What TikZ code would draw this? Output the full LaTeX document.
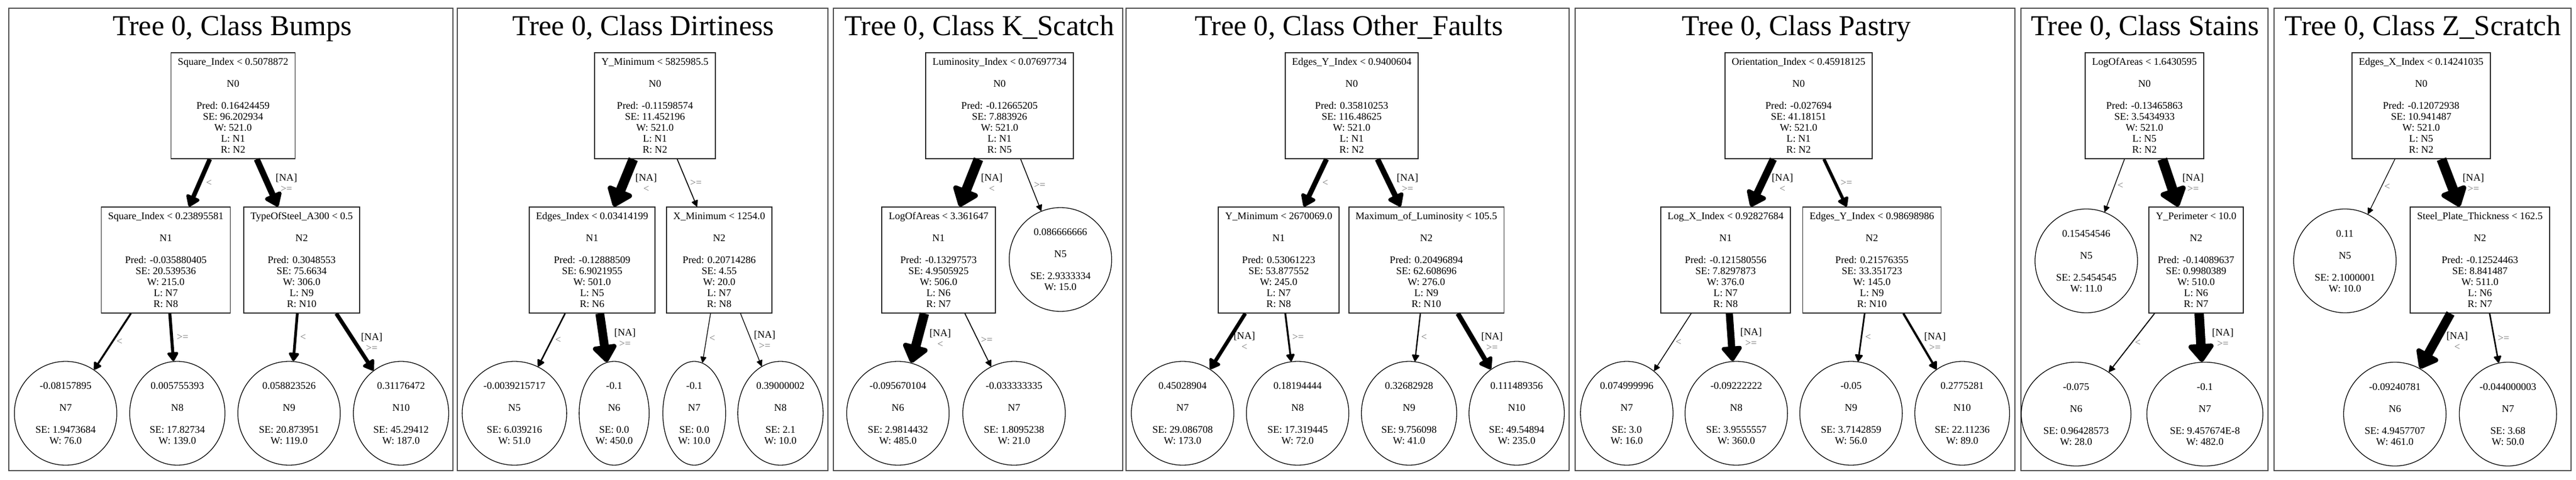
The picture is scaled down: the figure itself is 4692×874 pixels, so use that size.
\documentclass[tikz,border=0pt]{standalone}
\usepackage{fontspec}
\setmainfont{Liberation Serif}
\usetikzlibrary{arrows.meta,shapes.geometric}
\definecolor{lblgray}{gray}{0.45}
\definecolor{framegray}{gray}{0.3}
\newcommand\nfont{\fontsize{18.5}{20}\selectfont}
\newcommand\tfont{\fontsize{52.5}{56}\selectfont}
\newcommand\gl[1]{\textcolor{lblgray}{#1}}
\newcommand\btext[7]{#1\\[20pt]#2\\[20pt]Pred: #3\\SE: #4\\W: #5\\L: #6\\R: #7}
\newcommand\ltext[4]{#1\\[20pt]#2\\[20pt]SE: #3\\W: #4}
\newcommand\tedge[4]{\draw[edge, line width=#3pt] (#1) -- node[lbl, xshift={#3/2+4}] {#4} (#2);}
\newcommand\LT{\gl{<}}
\newcommand\GE{\gl{>=}}
\newcommand\NALT{[NA]\\\gl{<}}
\newcommand\NAGE{[NA]\\\gl{>=}}
\begin{document}
\begin{tikzpicture}[x=1pt,y=-1pt,
  box/.style={draw=black!85, line width=1.6pt, rectangle, minimum height=193pt, inner xsep=12.5pt, inner ysep=0pt, align=center, font=\nfont},
  leaf/.style={draw=black, ellipse, line width=1.3pt, minimum height=189pt, inner xsep=11pt, inner ysep=0pt, align=center, font=\nfont},
  title/.style={anchor=base, font=\tfont, inner sep=0pt},
  frame/.style={draw=framegray, line width=2.2pt},
  edge/.style={-{Triangle[length=10pt 1.5, width=8pt 2.6, round]}, black},
  lbl/.style={anchor=west, font=\nfont, align=center, inner sep=0pt}]
\useasboundingbox (0,0) rectangle (4692,874);
\fill[white] (0,0) rectangle (4692,874);

% ---------- Panel 1: Bumps
\draw[frame] (16,15) rectangle (825,857);
\node[title] (t1) at (423,65) {Tree 0, Class Bumps};
\node[box] (a0) at (424.5,192.5) {\btext{Square\_Index < 0.5078872}{N0}{0.16424459}{96.202934}{521.0}{N1}{N2}};
\node[box] (a1) at (302,473.5) {\btext{Square\_Index < 0.23895581}{N1}{-0.035880405}{20.539536}{215.0}{N7}{N8}};
\node[box] (a2) at (549.5,473.5) {\btext{TypeOfSteel\_A300 < 0.5}{N2}{0.3048553}{75.6634}{306.0}{N9}{N10}};
\node[leaf] (a7) at (119.5,752.5) {\ltext{-0.08157895}{N7}{1.9473684}{76.0}};
\node[leaf] (a8) at (323,752.5) {\ltext{0.005755393}{N8}{17.82734}{139.0}};
\node[leaf] (a9) at (526.5,752.5) {\ltext{0.058823526}{N9}{20.873951}{119.0}};
\node[leaf] (a10) at (730.5,752.5) {\ltext{0.31176472}{N10}{45.29412}{187.0}};
\tedge{a0}{a1}{8.2}{\LT}
\tedge{a0}{a2}{11.2}{\NAGE}
\tedge{a1}{a7}{3.5}{\LT}
\tedge{a1}{a8}{5.6}{\GE}
\tedge{a2}{a9}{5.0}{\LT}
\tedge{a2}{a10}{7.2}{\NAGE}

% ---------- Panel 2: Dirtiness
\draw[frame] (833,15) rectangle (1508,857);
\node[title] (t2) at (1172,65) {Tree 0, Class Dirtiness};
\node[box] (b0) at (1193,192.5) {\btext{Y\_Minimum < 5825985.5}{N0}{-0.11598574}{11.452196}{521.0}{N1}{N2}};
\node[box] (b1) at (1078.5,473.5) {\btext{Edges\_Index < 0.03414199}{N1}{-0.12888509}{6.9021955}{501.0}{N5}{N6}};
\node[box] (b2) at (1310,473.5) {\btext{X\_Minimum < 1254.0}{N2}{0.20714286}{4.55}{20.0}{N7}{N8}};
\node[leaf] (b5) at (937,752.5) {\ltext{-0.0039215717}{N5}{6.039216}{51.0}};
\node[leaf] (b6) at (1118.6,752.5) {\ltext{-0.1}{N6}{0.0}{450.0}};
\node[leaf] (b7) at (1264.5,752.5) {\ltext{-0.1}{N7}{0.0}{10.0}};
\node[leaf] (b8) at (1421.5,752.5) {\ltext{0.39000002}{N8}{2.1}{10.0}};
\tedge{b0}{b1}{17.7}{\NALT}
\tedge{b0}{b2}{1.7}{\GE}
\tedge{b1}{b5}{2.7}{\LT}
\tedge{b1}{b6}{16}{\NAGE}
\tedge{b2}{b7}{1.3}{\LT}
\tedge{b2}{b8}{1.3}{\NAGE}

% ---------- Panel 3: K_Scatch
\draw[frame] (1518,15) rectangle (2045,857);
\node[title] (t3) at (1784,65) {Tree 0, Class K\_Scatch};
\node[box] (c0) at (1820.6,192.5) {\btext{Luminosity\_Index < 0.07697734}{N0}{-0.12665205}{7.883926}{521.0}{N1}{N5}};
\node[box] (c1) at (1709.5,473.5) {\btext{LogOfAreas < 3.361647}{N1}{-0.13297573}{4.9505925}{506.0}{N6}{N7}};
\node[leaf] (c5) at (1931.5,472.5) {\ltext{0.086666666}{N5}{2.9333334}{15.0}};
\node[leaf] (c6) at (1635.5,752.5) {\ltext{-0.095670104}{N6}{2.9814432}{485.0}};
\node[leaf] (c7) at (1847,752.5) {\ltext{-0.033333335}{N7}{1.8095238}{21.0}};
\tedge{c0}{c1}{17.9}{\NALT}
\tedge{c0}{c5}{1.5}{\GE}
\tedge{c1}{c6}{17.2}{\NALT}
\tedge{c1}{c7}{1.7}{\GE}

% ---------- Panel 4: Other_Faults
\draw[frame] (2051,15) rectangle (2858,857);
\node[title] (t4) at (2457,65) {Tree 0, Class Other\_Faults};
\node[box] (d0) at (2462,192.5) {\btext{Edges\_Y\_Index < 0.9400604}{N0}{0.35810253}{116.48625}{521.0}{N1}{N2}};
\node[box] (d1) at (2329,473.5) {\btext{Y\_Minimum < 2670069.0}{N1}{0.53061223}{53.877552}{245.0}{N7}{N8}};
\node[box] (d2) at (2598,473.5) {\btext{Maximum\_of\_Luminosity < 105.5}{N2}{0.20496894}{62.608696}{276.0}{N9}{N10}};
\node[leaf] (d7) at (2154,752.5) {\ltext{0.45028904}{N7}{29.086708}{173.0}};
\node[leaf] (d8) at (2363.5,752.5) {\ltext{0.18194444}{N8}{17.319445}{72.0}};
\node[leaf] (d9) at (2566.5,752.5) {\ltext{0.32682928}{N9}{9.756098}{41.0}};
\node[leaf] (d10) at (2762.5,752.5) {\ltext{0.111489356}{N10}{49.54894}{235.0}};
\tedge{d0}{d1}{9.2}{\LT}
\tedge{d0}{d2}{10.2}{\NAGE}
\tedge{d1}{d7}{6.8}{\NALT}
\tedge{d1}{d8}{3.4}{\GE}
\tedge{d2}{d9}{2.4}{\LT}
\tedge{d2}{d10}{8.8}{\NAGE}

% ---------- Panel 5: Pastry
\draw[frame] (2869,15) rectangle (3670,857);
\node[title] (t5) at (3272,65) {Tree 0, Class Pastry};
\node[box] (e0) at (3276,192.5) {\btext{Orientation\_Index < 0.45918125}{N0}{-0.027694}{41.18151}{521.0}{N1}{N2}};
\node[box] (e1) at (3143,473.5) {\btext{Log\_X\_Index < 0.92827684}{N1}{-0.121580556}{7.8297873}{376.0}{N7}{N8}};
\node[box] (e2) at (3409.5,473.5) {\btext{Edges\_Y\_Index < 0.98698986}{N2}{0.21576355}{33.351723}{145.0}{N9}{N10}};
\node[leaf] (e7) at (2963,752.5) {\ltext{0.074999996}{N7}{3.0}{16.0}};
\node[leaf] (e8) at (3162.5,752.5) {\ltext{-0.09222222}{N8}{3.9555557}{360.0}};
\node[leaf] (e9) at (3371.5,752.5) {\ltext{-0.05}{N9}{3.7142859}{56.0}};
\node[leaf] (e10) at (3574,752.5) {\ltext{0.2775281}{N10}{22.11236}{89.0}};
\tedge{e0}{e1}{13.5}{\NALT}
\tedge{e0}{e2}{5.8}{\GE}
\tedge{e1}{e7}{1.5}{\LT}
\tedge{e1}{e8}{13}{\NAGE}
\tedge{e2}{e9}{2.9}{\LT}
\tedge{e2}{e10}{4}{\NAGE}

% ---------- Panel 6: Stains
\draw[frame] (3681,15) rectangle (4131,857);
\node[title] (t6) at (3907,65) {Tree 0, Class Stains};
\node[box] (f0) at (3906,192.5) {\btext{LogOfAreas < 1.6430595}{N0}{-0.13465863}{3.5434933}{521.0}{N5}{N2}};
\node[leaf] (f5) at (3800,475) {\ltext{0.15454546}{N5}{2.5454545}{11.0}};
\node[box] (f2) at (4000,473.5) {\btext{Y\_Perimeter < 10.0}{N2}{-0.14089637}{0.9980389}{510.0}{N6}{N7}};
\node[leaf] (f6) at (3781.5,754) {\ltext{-0.075}{N6}{0.96428573}{28.0}};
\node[leaf] (f7) at (4016,754) {\ltext{-0.1}{N7}{9.457674E-8}{482.0}};
\tedge{f0}{f5}{1.4}{\LT}
\tedge{f0}{f2}{18}{\NAGE}
\tedge{f2}{f6}{1.9}{\LT}
\tedge{f2}{f7}{17.1}{\NAGE}

% ---------- Panel 7: Z_Scratch
\draw[frame] (4142,15) rectangle (4683,857);
\node[title] (t7) at (4413,65) {Tree 0, Class Z\_Scratch};
\node[box] (g0) at (4410,192.5) {\btext{Edges\_X\_Index < 0.14241035}{N0}{-0.12072938}{10.941487}{521.0}{N5}{N2}};
\node[leaf] (g5) at (4271,475) {\ltext{0.11}{N5}{2.1000001}{10.0}};
\node[box] (g2) at (4517,473.5) {\btext{Steel\_Plate\_Thickness < 162.5}{N2}{-0.12524463}{8.841487}{511.0}{N6}{N7}};
\node[leaf] (g6) at (4362,754) {\ltext{-0.09240781}{N6}{4.9457707}{461.0}};
\node[leaf] (g7) at (4568,754) {\ltext{-0.044000003}{N7}{3.68}{50.0}};
\tedge{g0}{g5}{1.3}{\LT}
\tedge{g0}{g2}{18}{\NAGE}
\tedge{g2}{g6}{16.4}{\NALT}
\tedge{g2}{g7}{2.7}{\GE}
\end{tikzpicture}
\end{document}
